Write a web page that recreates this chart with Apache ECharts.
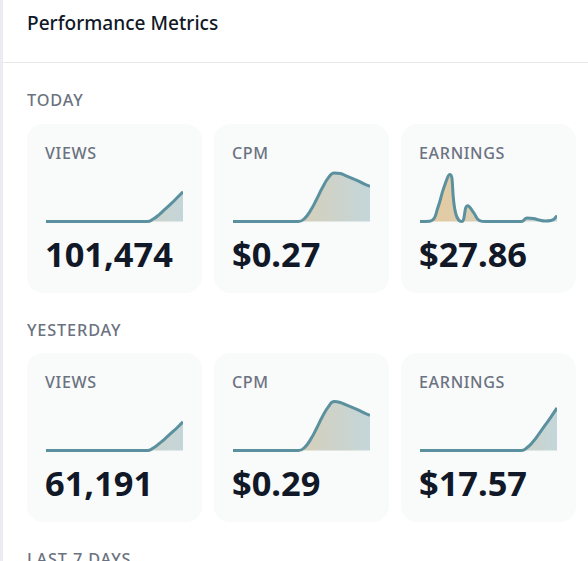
<!DOCTYPE html>
<html>
<head>
<meta charset="utf-8">
<title>Performance Metrics</title>
<script src="https://cdn.jsdelivr.net/npm/echarts@6/dist/echarts.min.js"></script>
<style>
    html, body { margin: 0; padding: 0; background: #fff; }
    body { width: 588px; height: 561px; overflow: hidden; position: relative; font-family: "Noto Sans", sans-serif; }
    .edge { position: absolute; left: 0; top: 0; width: 3px; height: 561px; background: #ecebf2; }
    .title { position: absolute; left: 27px; top: 9px; font-size: 19.1px; line-height: 28px; font-weight: 500; color: #111827; white-space: nowrap; }
    .rule { position: absolute; left: 3px; right: 0; top: 62px; height: 1px; background: #e5e7eb; }
    .section { position: absolute; left: 27px; font-size: 16.3px; line-height: 20px; font-weight: 500; letter-spacing: 0.85px; color: #6b7280; white-space: nowrap; }
    .card { position: absolute; width: 175px; height: 169px; border-radius: 16px; background: #f9fafa; }
    .label { position: absolute; left: 18px; top: 19px; font-size: 16.1px; line-height: 20px; font-weight: 500; letter-spacing: 0.65px; color: #6b7280; }
    .value { position: absolute; left: 18px; top: 107px; font-size: 34.4px; line-height: 46px; font-weight: 700; color: #111827; white-space: nowrap; }
    .spark { position: absolute; left: 19px; top: 40px; width: 137px; height: 66px; }
</style>
</head>
<body>
<div class="edge"></div>
<div class="title">Performance Metrics</div>
<div class="rule"></div>
<div id="page"></div>
<script>
    // 小时刻度
    const hours = ['0', '1', '2', '3', '4', '5', '6', '7', '8', '9', '10', '11', '12', '13', '14', '15', '16', '17', '18', '19', '20', '21', '22', '23'];

    // 今日数据
    const todayViews = [0, 0, 0, 0, 0, 0, 0, 0, 0, 0, 0, 0, 0, 0, 0, 0, 0, 0, 2.5, 7, 12.5, 18, 24, 30];
    const todayCpm = [0, 0, 0, 0, 0, 0, 0, 0, 0, 0, 0, 0, 3, 11, 22, 34, 44, 49, 48.5, 46, 43.5, 41, 38, 35.5];
    const todayEarnings = [0, 0, 1, 14, 34, 47.5, 8, 0, 16, 9, 1, 0, 0, 0, 0, 0, 0, 0, 3.5, 3, 1.5, 0.5, 1, 6];

    // 昨日数据
    const yesterdayViews = [0, 0, 0, 0, 0, 0, 0, 0, 0, 0, 0, 0, 0, 0, 0, 0, 0, 0, 2.5, 7, 12, 17.5, 23, 29];
    const yesterdayCpm = [0, 0, 0, 0, 0, 0, 0, 0, 0, 0, 0, 0, 3, 11, 22, 34, 44, 49.5, 48.5, 46, 43.5, 41, 38, 35.5];
    const yesterdayEarnings = [0, 0, 0, 0, 0, 0, 0, 0, 0, 0, 0, 0, 0, 0, 0, 0, 0, 0, 3, 9, 17, 25.5, 34, 43];

    // 卡片文字
    const metricNames = ['VIEWS', 'CPM', 'EARNINGS'];
    const todayTotals = ['101,474', '$0.27', '$27.86'];
    const yesterdayTotals = ['61,191', '$0.29', '$17.57'];

    const page = document.querySelector('#page');
    const cardLefts = [27, 214, 401];

    function addText(cls, text, top) {
        let el = document.createElement('div');
        el.className = cls;
        el.textContent = text;
        el.style.top = top + 'px';
        page.appendChild(el);
    }

    // 生成一行卡片
    function addRow(top, totals, seriesList) {
        for (let i = 0; i < 3; i++) {
            let card = document.createElement('div');
            card.className = 'card';
            card.style.left = cardLefts[i] + 'px';
            card.style.top = top + 'px';
            card.innerHTML = '<div class="label">' + metricNames[i] + '</div><div class="value">' + totals[i] + '</div><div class="spark"></div>';
            page.appendChild(card);

            let chart = echarts.init(card.querySelector('.spark'), null, { renderer: 'canvas' });
            chart.setOption({
                animation: false,
                grid: { left: 0, right: 0, top: 5, bottom: 8.5 },
                xAxis: { type: 'category', boundaryGap: false, data: hours, show: false },
                yAxis: { type: 'value', min: 0, max: 53, show: false },
                series: [{
                    type: 'line',
                    data: seriesList[i],
                    smooth: true,
                    symbol: 'none',
                    clip: false,
                    lineStyle: { color: '#5b919e', width: 3 },
                    areaStyle: {
                        opacity: 1,
                        color: new echarts.graphic.LinearGradient(0, 0, 1, 0, [
                            { offset: 0, color: '#e8c99a' },
                            { offset: 1, color: '#c4d6da' }
                        ])
                    }
                }]
            });
        }
    }

    addText('section', 'TODAY', 90);
    addRow(124, todayTotals, [todayViews, todayCpm, todayEarnings]);
    addText('section', 'YESTERDAY', 320);
    addRow(353, yesterdayTotals, [yesterdayViews, yesterdayCpm, yesterdayEarnings]);
    addText('section', 'LAST 7 DAYS', 549);
</script>
</body>
</html>
